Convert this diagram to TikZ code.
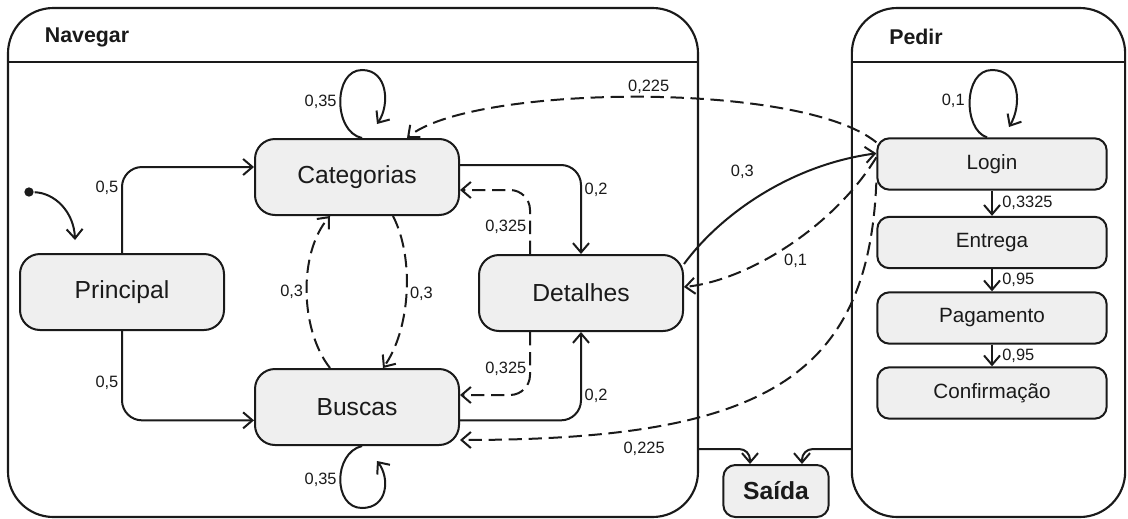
\documentclass[tikz,border=0pt]{standalone}
\usepackage{fontspec}
\setmainfont{Liberation Sans}
\usetikzlibrary{arrows.meta,calc}
\definecolor{stfill}{HTML}{EFEFEF}
\definecolor{ink}{HTML}{1A1A1A}
\begin{document}
\begin{tikzpicture}[x=0.75pt,y=-0.75pt,
  line width=1.5pt, draw=ink, text=ink,
  frame/.style={draw, fill=white, line width=1.6pt, rounded corners=34pt, inner sep=0pt},
  hdr/.style={font=\fontsize{16}{18}\selectfont\bfseries},
  bigst/.style={draw, fill=stfill, rounded corners=15pt, minimum width=153pt, minimum height=57pt, inner sep=0pt, font=\fontsize{18.5}{20}\selectfont},
  pst/.style={draw, fill=stfill, rounded corners=9pt, minimum width=172pt, minimum height=38.5pt, inner sep=0pt, font=\fontsize{15.5}{17}\selectfont},
  exitst/.style={draw, fill=stfill, rounded corners=9pt, minimum width=79pt, minimum height=39pt, inner sep=0pt, font=\fontsize{18.5}{20}\selectfont\bfseries},
  edge/.style={draw, -{Straight Barb[length=7pt,width=12pt]}},
  dsh/.style={dash pattern=on 10pt off 5pt},
  lbl/.style={font=\fontsize{12.3}{14}\selectfont, inner sep=2pt}
]
\useasboundingbox (0,0) rectangle (1128,518);

% frames
\node[frame, minimum width=517.5pt, minimum height=381.75pt] (nav) at (353,262.5) {};
\node[frame, minimum width=205pt, minimum height=381.75pt] (ped) at (988.5,262.5) {};
\coordinate (hl) at (0,62);
\draw[line width=1.6pt] (nav.west |- hl) -- (nav.east |- hl);
\draw[line width=1.6pt] (ped.west |- hl) -- (ped.east |- hl);
\node[hdr] (navt) at (87,37) {Navegar};
\node[hdr] (pedt) at (916,37) {Pedir};

% states
\node[bigst] (Categorias) at (357,177) {Categorias};
\node[bigst] (Principal) at (122,292) {Principal};
\node[bigst] (Buscas) at (357,407) {Buscas};
\node[bigst] (Detalhes) at (581,293) {Detalhes};
\node[pst] (Login) at (992,164) {Login};
\node[pst] (Entrega) at (992,242.5) {Entrega};
\node[pst] (Pagamento) at (992,318) {Pagamento};
\node[pst] (Confirmacao) at (992,393) {Confirmação};
\node[exitst] (Saida) at (776,491) {Saída};

% initial
\node[circle, fill=ink, inner sep=0pt, minimum size=7pt] (init) at (29,192) {};
\coordinate (initend) at (75,240);
\draw[edge] (init) .. controls (55,193) and (74,212) .. (initend);

% Principal
\draw[edge, rounded corners=15pt] (Principal.north) |- ([yshift=7.5pt]Categorias.west) node[lbl,pos=0.38,left]{0,5};
\draw[edge, rounded corners=15pt] (Principal.south) |- ([yshift=-10pt]Buscas.west) node[lbl,pos=0.29,left]{0,5};

% Categorias <-> Detalhes <-> Buscas
\draw[edge, rounded corners=15pt] ([yshift=9pt]Categorias.east) -| (Detalhes.north) node[lbl,pos=0.64,right]{0,2};
\draw[edge, rounded corners=15pt] ([yshift=-10pt]Buscas.east) -| (Detalhes.south) node[lbl,pos=0.64,right]{0,2};
\draw[edge, dsh, rounded corners=15pt] ([xshift=-38.25pt]Detalhes.north) |- ([yshift=-9.75pt]Categorias.east) node[lbl,pos=0.215,left]{0,325};
\draw[edge, dsh, rounded corners=15pt] ([xshift=-38.25pt]Detalhes.south) |- ([yshift=9pt]Buscas.east) node[lbl,pos=0.29,left]{0,325};

% Categorias <-> Buscas
\draw[edge, dsh] ([xshift=27pt]Categorias.south) .. controls +(22,43) and +(27,-38) .. ([xshift=19.5pt]Buscas.north) node[lbl,pos=0.5,right]{0,3};
\draw[edge, dsh] ([xshift=-20.25pt]Buscas.north) .. controls +(-30,-38) and +(-32,37) .. ([xshift=-20.25pt]Categorias.south) node[lbl,pos=0.5,left]{0,3};

% self loops
\coordinate (catloop) at (377,124);
\draw[edge] ([xshift=3.75pt]Categorias.north) .. controls (333,132) and (333,70) .. (362,70) node[lbl,pos=0.5,left]{0,35} .. controls (388,70) and (390,105) .. (catloop);
\coordinate (busloop) at (377,461);
\draw[edge] ([xshift=3.75pt]Buscas.south) .. controls (333,453) and (333,508) .. (362,508) node[lbl,pos=0.5,left]{0,35} .. controls (388,508) and (390,478) .. (busloop);
\coordinate (logloop) at (1009,127);
\draw[edge] ([xshift=-3.75pt]Login.north) .. controls (963,130) and (963,70) .. (992,70) node[lbl,pos=0.5,left=1pt]{0,1} .. controls (1020,70) and (1022,105) .. (logloop);

% Navegar <-> Pedir
\draw[edge] ([yshift=-7.5pt]Detalhes.north east) .. controls (720,215) and (790,165) .. ([yshift=8pt]Login.west) node[lbl,pos=0.4,above=19pt]{0,3};
\draw[edge, dsh] ([yshift=5pt]Login.west) .. controls (835,225) and (750,280) .. ([yshift=4.5pt]Detalhes.east) node[lbl,pos=0.47,below=7pt]{0,1};
\draw[edge, dsh] ([yshift=-3.75pt]Login.north west) .. controls (800,80) and (470,85) .. ([xshift=37.5pt]Categorias.north) node[lbl,pos=0.48,above]{0,225};
\draw[edge, dsh] ([yshift=-14pt]Login.west) .. controls (868,380) and (760,440) .. ([yshift=-24.75pt]Buscas.east) node[lbl,pos=0.76,below=7pt]{0,225};

% Pedir chain
\draw[edge] (Login) -- (Entrega) node[lbl,midway,right=5pt]{0,3325};
\draw[edge] (Entrega) -- (Pagamento) node[lbl,midway,right=5pt]{0,95};
\draw[edge] (Pagamento) -- (Confirmacao) node[lbl,midway,right=5pt]{0,95};

% exit
\draw[edge, rounded corners=8pt] ([yshift=51.75pt]nav.south east) -| ([xshift=-19.5pt]Saida.north);
\draw[edge, rounded corners=8pt] ([yshift=51.75pt]ped.south west) -| ([xshift=19.5pt]Saida.north);
\end{tikzpicture}
\end{document}
